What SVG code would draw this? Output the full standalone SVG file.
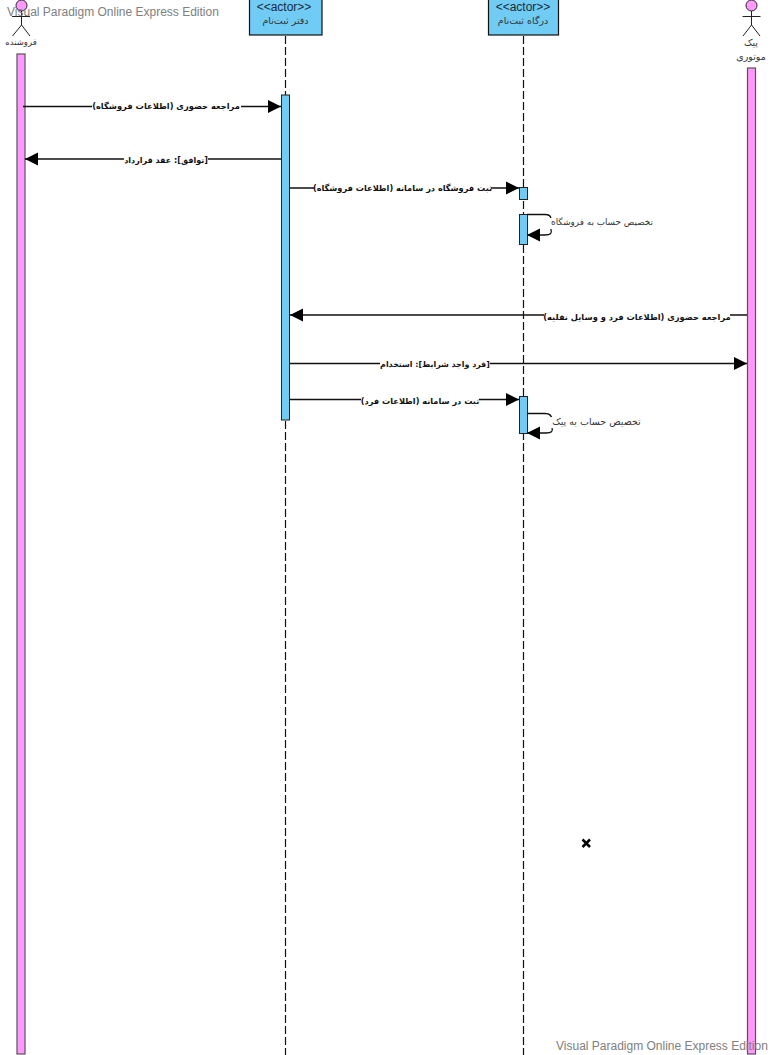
<svg xmlns="http://www.w3.org/2000/svg" width="773" height="1055" viewBox="0 0 773 1055">
<style>
text{font-family:"DejaVu Sans","Noto Sans",sans-serif}
.wm{font-family:"Liberation Sans",Arial,sans-serif;font-size:12px;fill:#808080}
.st{font-family:"Liberation Sans",Arial,sans-serif;font-size:12px;fill:#1a2a3a;text-anchor:middle}
.nm{font-size:9.5px;fill:#333;text-anchor:middle}
.msg{font-size:8.3px;font-weight:bold;fill:#111;text-anchor:middle;direction:rtl}
.self{font-size:9.5px;fill:#333;text-anchor:middle;direction:rtl}
.lab{fill:#fff;stroke:none}
.pink{fill:#ff99ff;stroke:#555;stroke-width:1.2}
.blue{fill:#70cbf5;stroke:#222;stroke-width:1}
.head{fill:#70cbf5;stroke:#111;stroke-width:1.2}
.life{stroke:#111;stroke-width:1.2;stroke-dasharray:8 3;fill:none}
.conn{stroke:#111;stroke-width:1.3;fill:none}
.fig{stroke:#222;stroke-width:1;fill:none}
.figh{fill:#ff99ff;stroke:#222;stroke-width:1}
</style>
<defs>
<marker id="ah" markerUnits="userSpaceOnUse" markerWidth="14" markerHeight="14" refX="13" refY="7" orient="auto"><path d="M0,0.5L13,7L0,13.5Z" fill="#000"/></marker>
</defs>

<g id="lifelines">
<line class="life" x1="285.500" y1="36" x2="285.500" y2="1055"/>
<line class="life" x1="523.500" y1="36" x2="523.500" y2="1055"/>
</g>

<g id="seller">
<circle class="figh" cx="21.500" cy="5.500" r="5.500"/>
<path class="fig" d="M21.500,11V25M12,16.500H30M21.500,25L12.500,36M21.500,25L30,36"/>
<text class="nm" x="21" y="45" style="font-size:8.500px">فروشنده</text>
<rect class="pink" x="17" y="54" width="8" height="1000"/>
</g>

<g id="office">
<rect class="head" x="249.500" y="-1" width="72.500" height="36"/>
<text class="st" x="284" y="11">&lt;&lt;actor&gt;&gt;</text>
<text class="nm" x="285.500" y="24">دفتر ثبت‌نام</text>
<rect class="blue" x="281.500" y="95" width="8" height="325"/>
</g>

<g id="portal">
<rect class="head" x="488.500" y="-1" width="70" height="36"/>
<text class="st" x="523" y="11">&lt;&lt;actor&gt;&gt;</text>
<text class="nm" x="523" y="24">درگاه ثبت‌نام</text>
<rect class="blue" x="519.500" y="187.500" width="8" height="12"/>
<rect class="blue" x="519.500" y="214.500" width="8" height="30"/>
<rect class="blue" x="519.500" y="396.500" width="8" height="37"/>
</g>

<g id="courier">
<circle class="figh" cx="751.500" cy="5.500" r="5.500"/>
<path class="fig" d="M751.500,11V25M742.500,16.500H760.500M751.500,25L743,36M751.500,25L760,36"/>
<text class="nm" x="751" y="46">پیک</text>
<text class="nm" x="751" y="60">موتوری</text>
<rect class="pink" x="747.500" y="68" width="8" height="986"/>
</g>

<g id="connectors">
<line class="conn" x1="23" y1="106.500" x2="281" y2="106.500" marker-end="url(#ah)"/>
<line class="conn" x1="281" y1="159" x2="25" y2="159" marker-end="url(#ah)"/>
<line class="conn" x1="290" y1="188" x2="519" y2="188" marker-end="url(#ah)"/>
<path class="conn" d="M527,214.500H545Q551,214.500 551,219V230Q553,235 545,235H527" marker-end="url(#ah)"/>
<line class="conn" x1="747" y1="315" x2="290" y2="315" marker-end="url(#ah)"/>
<line class="conn" x1="290" y1="363.500" x2="747" y2="363.500" marker-end="url(#ah)"/>
<line class="conn" x1="290" y1="399.500" x2="519" y2="399.500" marker-end="url(#ah)"/>
<path class="conn" d="M527,413.500H545Q552,413.500 552,420V428Q554,433 546,433H527" marker-end="url(#ah)"/>
</g>

<g id="labels">
<rect class="lab" x="92" y="100" width="149" height="12"/>
<text class="msg" x="166" y="109">مراجعه حضوری (اطلاعات فروشگاه)</text>
<rect class="lab" x="124" y="154" width="84" height="12"/>
<text class="msg" x="166" y="163" style="font-size:8px">[توافق]: عقد قرارداد</text>
<rect class="lab" x="314" y="182" width="177" height="12"/>
<text class="msg" x="402.500" y="191" style="font-size:8.200px">ثبت فروشگاه در سامانه (اطلاعات فروشگاه)</text>
<rect class="lab" x="549" y="218" width="103" height="11"/>
<text class="self" x="602" y="225" style="font-size:8.800px">تخصیص حساب به فروشگاه</text>
<rect class="lab" x="544" y="310" width="186" height="12"/>
<text class="msg" x="637" y="320">مراجعه حضوری (اطلاعات فرد و وسایل نقلیه)</text>
<rect class="lab" x="380" y="358" width="110" height="12"/>
<text class="msg" x="435" y="367" style="font-size:7.900px">[فرد واجد شرایط]: استخدام</text>
<rect class="lab" x="361" y="394" width="118" height="12"/>
<text class="msg" x="420" y="404" style="font-size:8.200px">ثبت در سامانه (اطلاعات فرد)</text>
<rect class="lab" x="550" y="417" width="90" height="11"/>
<text class="self" x="596.500" y="425">تخصیص حساب به پیک</text>
</g>

<path id="cross" d="M582.500,839.500L590,847M590,839.500L582.500,847" stroke="#000" stroke-width="2.500" fill="none"/>

<g id="watermarks">
<text class="wm" x="7" y="16">Visual Paradigm Online Express Edition</text>
<text class="wm" x="556" y="1050">Visual Paradigm Online Express Edition</text>
</g>
</svg>
